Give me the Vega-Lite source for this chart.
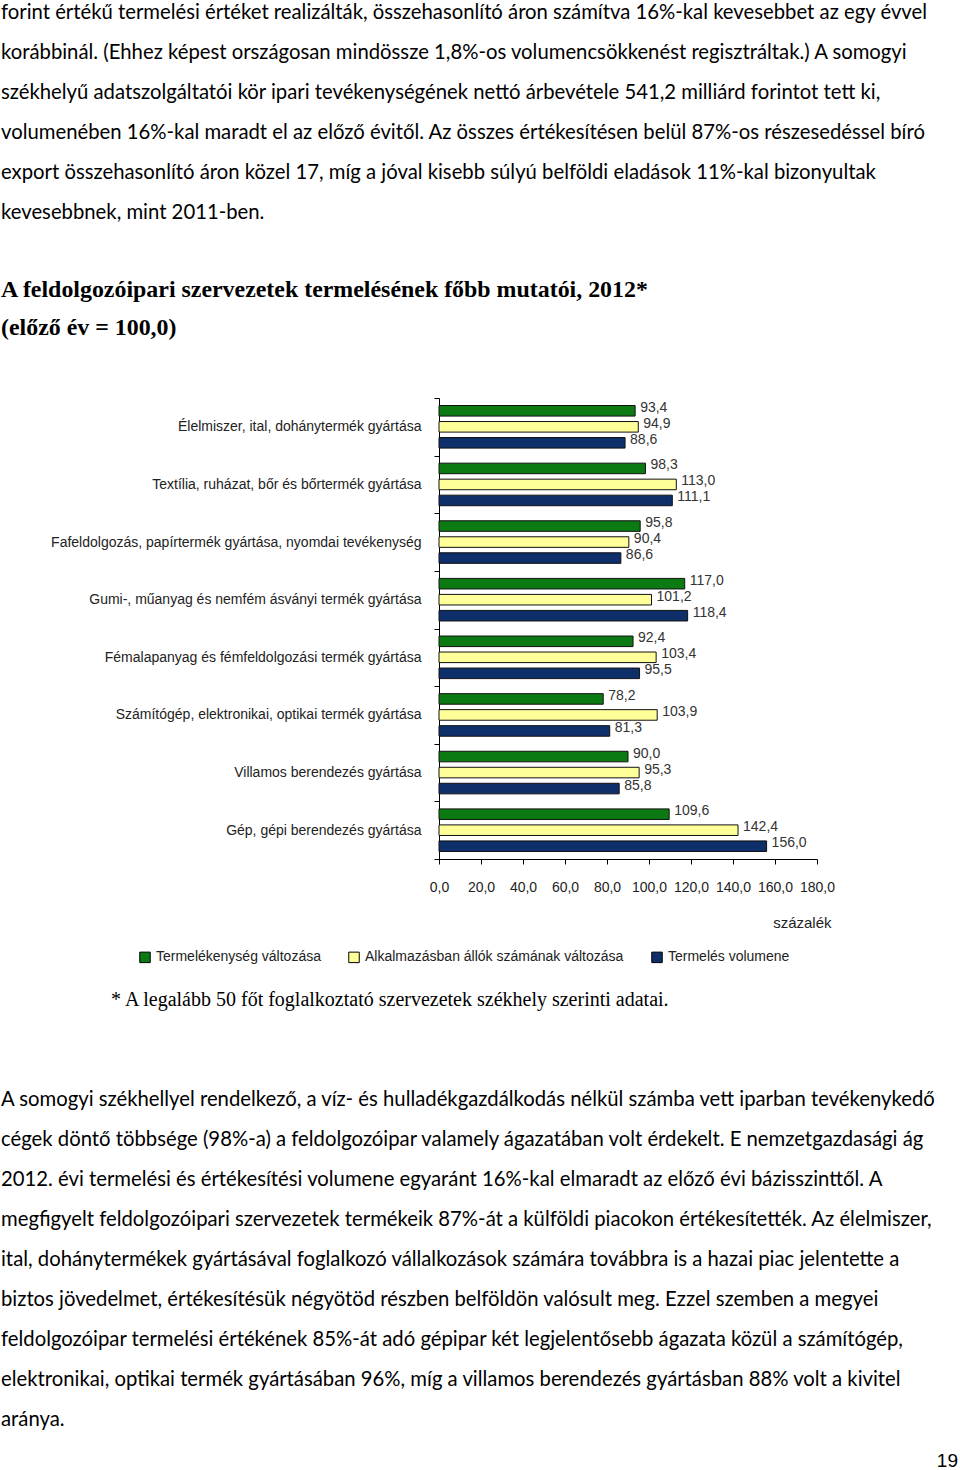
{
  "$schema": "https://vega.github.io/schema/vega-lite/v6.json",
  "background": "white",
  "padding": {"left": 1, "top": 2, "right": 0, "bottom": 0},
  "spacing": 0,
  "config": {
    "view": {"stroke": null},
    "font": "Liberation Sans",
    "locale": {"number": {"decimal": ",", "thousands": " ", "grouping": [3], "currency": ["", ""]}}
  },
  "resolve": {"scale": {"color": "independent"}, "legend": {"color": "independent"}},
  "vconcat": [
    {
      "title": {
        "text": [
          "forint értékű termelési értéket realizálták, összehasonlító áron számítva 16%-kal kevesebbet az egy évvel",
          "korábbinál. (Ehhez képest országosan mindössze 1,8%-os volumencsökkenést regisztráltak.) A somogyi",
          "székhelyű adatszolgáltatói kör ipari tevékenységének nettó árbevétele 541,2 milliárd forintot tett ki,",
          "volumenében 16%-kal maradt el az előző évitől. Az összes értékesítésen belül 87%-os részesedéssel bíró",
          "export összehasonlító áron közel 17, míg a jóval kisebb súlyú belföldi eladások 11%-kal bizonyultak",
          "kevesebbnek, mint 2011-ben."
        ],
        "subtitle": [
          "A feldolgozóipari szervezetek termelésének főbb mutatói, 2012*",
          "(előző év = 100,0)"
        ],
        "anchor": "start",
        "frame": "bounds",
        "font": "Lato",
        "fontSize": 20.3,
        "fontWeight": "normal",
        "color": "#000000",
        "lineHeight": 40,
        "subtitleFont": "Liberation Serif",
        "subtitleFontSize": 23.9,
        "subtitleFontWeight": "bold",
        "subtitleColor": "#000000",
        "subtitleLineHeight": 38,
        "subtitlePadding": 55,
        "offset": 51
      },
      "width": 378,
      "height": 461,
      "data": {
        "values": [
          {"ag": "Élelmiszer, ital, dohánytermék gyártása", "mutato": "Termelékenység változása", "ertek": 93.4},
          {"ag": "Élelmiszer, ital, dohánytermék gyártása", "mutato": "Alkalmazásban állók számának változása", "ertek": 94.9},
          {"ag": "Élelmiszer, ital, dohánytermék gyártása", "mutato": "Termelés volumene", "ertek": 88.6},
          {"ag": "Textília, ruházat, bőr és bőrtermék gyártása", "mutato": "Termelékenység változása", "ertek": 98.3},
          {"ag": "Textília, ruházat, bőr és bőrtermék gyártása", "mutato": "Alkalmazásban állók számának változása", "ertek": 113.0},
          {"ag": "Textília, ruházat, bőr és bőrtermék gyártása", "mutato": "Termelés volumene", "ertek": 111.1},
          {"ag": "Fafeldolgozás, papírtermék gyártása, nyomdai tevékenység", "mutato": "Termelékenység változása", "ertek": 95.8},
          {"ag": "Fafeldolgozás, papírtermék gyártása, nyomdai tevékenység", "mutato": "Alkalmazásban állók számának változása", "ertek": 90.4},
          {"ag": "Fafeldolgozás, papírtermék gyártása, nyomdai tevékenység", "mutato": "Termelés volumene", "ertek": 86.6},
          {"ag": "Gumi-, műanyag és nemfém ásványi termék gyártása", "mutato": "Termelékenység változása", "ertek": 117.0},
          {"ag": "Gumi-, műanyag és nemfém ásványi termék gyártása", "mutato": "Alkalmazásban állók számának változása", "ertek": 101.2},
          {"ag": "Gumi-, műanyag és nemfém ásványi termék gyártása", "mutato": "Termelés volumene", "ertek": 118.4},
          {"ag": "Fémalapanyag és fémfeldolgozási termék gyártása", "mutato": "Termelékenység változása", "ertek": 92.4},
          {"ag": "Fémalapanyag és fémfeldolgozási termék gyártása", "mutato": "Alkalmazásban állók számának változása", "ertek": 103.4},
          {"ag": "Fémalapanyag és fémfeldolgozási termék gyártása", "mutato": "Termelés volumene", "ertek": 95.5},
          {"ag": "Számítógép, elektronikai, optikai termék gyártása", "mutato": "Termelékenység változása", "ertek": 78.2},
          {"ag": "Számítógép, elektronikai, optikai termék gyártása", "mutato": "Alkalmazásban állók számának változása", "ertek": 103.9},
          {"ag": "Számítógép, elektronikai, optikai termék gyártása", "mutato": "Termelés volumene", "ertek": 81.3},
          {"ag": "Villamos berendezés gyártása", "mutato": "Termelékenység változása", "ertek": 90.0},
          {"ag": "Villamos berendezés gyártása", "mutato": "Alkalmazásban állók számának változása", "ertek": 95.3},
          {"ag": "Villamos berendezés gyártása", "mutato": "Termelés volumene", "ertek": 85.8},
          {"ag": "Gép, gépi berendezés gyártása", "mutato": "Termelékenység változása", "ertek": 109.6},
          {"ag": "Gép, gépi berendezés gyártása", "mutato": "Alkalmazásban állók számának változása", "ertek": 142.4},
          {"ag": "Gép, gépi berendezés gyártása", "mutato": "Termelés volumene", "ertek": 156.0}
        ]
      },
      "encoding": {
        "y": {
          "field": "ag",
          "type": "nominal",
          "sort": null,
          "scale": {"paddingInner": 0, "paddingOuter": 0},
          "axis": {
            "title": null,
            "domainColor": "#000000",
            "tickColor": "#000000",
            "tickSize": 5,
            "tickBand": "extent",
            "labelFontSize": 14,
            "labelColor": "#222222",
            "labelPadding": 13,
            "labelLimit": 430,
            "minExtent": 438
          }
        },
        "yOffset": {
          "field": "mutato",
          "sort": ["Termelékenység változása", "Alkalmazásban állók számának változása", "Termelés volumene"],
          "scale": {"paddingInner": 0.34, "paddingOuter": 0.47}
        },
        "x": {
          "field": "ertek",
          "type": "quantitative",
          "scale": {"domain": [0, 180], "nice": false},
          "axis": {
            "title": "százalék",
            "values": [0, 20, 40, 60, 80, 100, 120, 140, 160, 180],
            "format": ".1f",
            "grid": false,
            "domainColor": "#000000",
            "tickColor": "#000000",
            "tickSize": 5,
            "labelPadding": 16,
            "labelFontSize": 14,
            "labelColor": "#222222",
            "labelFlush": false,
            "labelOverlap": false,
            "titleFontSize": 15,
            "titleFontWeight": "normal",
            "titleColor": "#222222",
            "titleAnchor": "end",
            "titleAlign": "right",
            "titleBaseline": "middle",
            "titleX": 392,
            "titleY": 63
          }
        }
      },
      "layer": [
        {
          "mark": {"type": "bar", "stroke": "#111111", "strokeWidth": 1},
          "encoding": {
            "color": {
              "field": "mutato",
              "type": "nominal",
              "sort": ["Termelékenység változása", "Alkalmazásban állók számának változása", "Termelés volumene"],
              "scale": {
                "domain": ["Termelékenység változása", "Alkalmazásban állók számának változása", "Termelés volumene"],
                "range": ["#0c7a12", "#ffff99", "#0f2f6b"]
              },
              "legend": {
                "orient": "none",
                "legendX": -301,
                "legendY": 552,
                "direction": "horizontal",
                "title": null,
                "padding": 0,
                "symbolType": "square",
                "symbolSize": 110,
                "symbolStrokeColor": "#000000",
                "symbolStrokeWidth": 1,
                "labelFontSize": 14,
                "labelColor": "#222222",
                "labelOffset": 4,
                "columnPadding": 25,
                "labelLimit": 400
              }
            }
          }
        },
        {
          "mark": {"type": "text", "align": "left", "baseline": "middle", "dx": 5, "dy": -3, "fontSize": 14, "color": "#333333"},
          "encoding": {
            "text": {"field": "ertek", "type": "quantitative", "format": ".1f"}
          }
        }
      ]
    },
    {
      "width": 519,
      "height": 25,
      "data": {"values": []},
      "mark": "text",
      "encoding": {},
      "title": {
        "text": "* A legalább 50 főt foglalkoztató szervezetek székhely szerinti adatai.",
        "orient": "bottom",
        "anchor": "start",
        "frame": "group",
        "dx": -328,
        "offset": 0,
        "font": "Liberation Serif",
        "fontSize": 20,
        "fontWeight": "normal",
        "color": "#000000"
      }
    },
    {
      "width": 519,
      "height": 80,
      "data": {"values": []},
      "mark": "text",
      "encoding": {},
      "title": {
        "text": [
          "A somogyi székhellyel rendelkező, a víz- és hulladékgazdálkodás nélkül számba vett iparban tevékenykedő",
          "cégek döntő többsége (98%-a) a feldolgozóipar valamely ágazatában volt érdekelt. E nemzetgazdasági ág",
          "2012. évi termelési és értékesítési volumene egyaránt 16%-kal elmaradt az előző évi bázisszinttől. A",
          "megfigyelt feldolgozóipari szervezetek termékeik 87%-át a külföldi piacokon értékesítették. Az élelmiszer,",
          "ital, dohánytermékek gyártásával foglalkozó vállalkozások számára továbbra is a hazai piac jelentette a",
          "biztos jövedelmet, értékesítésük négyötöd részben belföldön valósult meg. Ezzel szemben a megyei",
          "feldolgozóipar termelési értékének 85%-át adó gépipar két legjelentősebb ágazata közül a számítógép,",
          "elektronikai, optikai termék gyártásában 96%, míg a villamos berendezés gyártásban 88% volt a kivitel",
          "aránya."
        ],
        "orient": "bottom",
        "anchor": "start",
        "frame": "group",
        "dx": -438,
        "offset": 0,
        "font": "Lato",
        "fontSize": 20.3,
        "fontWeight": "normal",
        "color": "#000000",
        "lineHeight": 40
      }
    },
    {
      "width": 519,
      "height": 21,
      "data": {"values": []},
      "mark": "text",
      "encoding": {},
      "title": {
        "text": "19",
        "orient": "bottom",
        "anchor": "end",
        "frame": "group",
        "offset": 0,
        "font": "Liberation Sans",
        "fontSize": 19,
        "fontWeight": "normal",
        "color": "#000000"
      }
    }
  ]
}
